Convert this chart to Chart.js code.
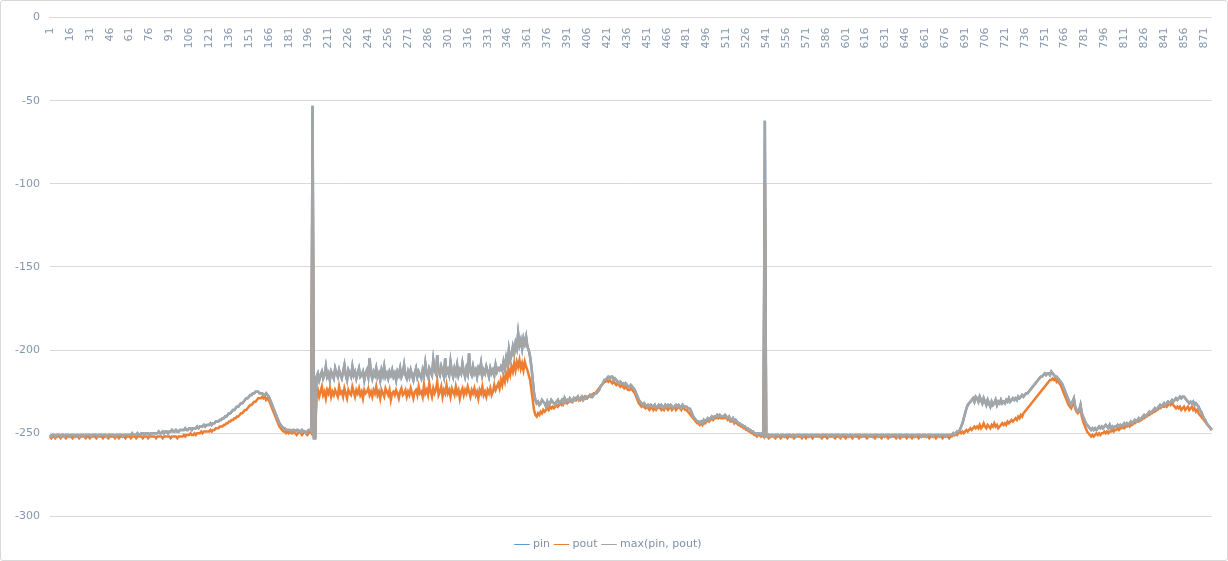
<!DOCTYPE html>
<html>
<head>
<meta charset="utf-8">
<script src="https://cdn.jsdelivr.net/npm/chart.js@4/dist/chart.umd.min.js"></script>
<style>
  html, body { margin: 0; padding: 0; background: #fff; }
  #wrap { position: relative; width: 1226px; height: 559px; border: 1px solid #d9d9d9; border-radius: 3px; }
</style>
</head>
<body>
<div id="wrap"><canvas id="chart" width="1226" height="559"></canvas></div>
<script>
// max(pin, pout)
const maxv = [
-251,-252,-251,-251,-252,-251,-251,-251,-252,-251,-251,-252,-251,-251,-251,-252,-251,-251,-251,-252,
-251,-251,-252,-251,-251,-251,-252,-251,-251,-251,-251,-252,-251,-251,-251,-251,-252,-251,-251,-251,
-251,-251,-251,-252,-251,-251,-251,-251,-251,-252,-251,-251,-251,-251,-251,-252,-251,-251,-251,-251,
-251,-251,-250,-251,-251,-251,-250,-251,-251,-250,-250,-251,-250,-250,-250,-251,-250,-250,-250,-250,
-250,-250,-249,-250,-250,-249,-250,-249,-249,-250,-249,-249,-248,-249,-249,-248,-249,-249,-248,-248,
-248,-248,-247,-248,-248,-247,-247,-248,-247,-247,-247,-246,-247,-246,-246,-246,-245,-246,-245,-245,
-245,-244,-245,-244,-244,-243,-243,-243,-242,-242,-241,-241,-240,-240,-239,-238,-238,-237,-236,-236,
-235,-234,-234,-233,-232,-232,-231,-230,-229,-229,-228,-227,-227,-226,-226,-225,-225,-225,-226,-226,
-226,-227,-227,-226,-227,-228,-230,-232,-234,-236,-238,-240,-242,-244,-245,-246,-247,-247,-248,-248,
-248,-248,-249,-248,-248,-249,-248,-248,-249,-249,-248,-249,-249,-250,-249,-248,-248,-249,-53,-253,
-253,-216,-214,-218,-215,-213,-217,-215,-210,-216,-214,-218,-213,-215,-217,-211,-214,-216,-212,-215,
-217,-213,-209,-215,-218,-212,-214,-216,-210,-215,-213,-217,-214,-211,-216,-215,-213,-218,-214,-212,
-216,-205,-214,-217,-213,-215,-211,-216,-214,-218,-212,-215,-210,-216,-214,-217,-213,-215,-212,-216,
-214,-218,-213,-215,-211,-216,-214,-209,-215,-217,-213,-216,-212,-215,-218,-214,-211,-216,-213,-215,
-217,-212,-215,-208,-214,-216,-211,-213,-215,-206,-212,-214,-203,-213,-215,-210,-213,-216,-205,-214,
-212,-215,-207,-213,-216,-211,-214,-209,-215,-212,-214,-208,-213,-216,-211,-214,-202,-213,-215,-210,
-214,-212,-216,-211,-213,-208,-215,-212,-214,-210,-213,-216,-211,-214,-212,-215,-209,-213,-211,-212,
-210,-212,-207,-211,-205,-209,-200,-206,-203,-198,-202,-196,-199,-190,-197,-194,-199,-193,-196,-192,
-198,-200,-204,-210,-218,-226,-230,-232,-231,-233,-232,-230,-231,-232,-234,-231,-233,-232,-230,-231,
-232,-233,-231,-230,-232,-231,-230,-232,-229,-231,-230,-231,-229,-230,-231,-229,-230,-229,-228,-230,
-229,-228,-230,-229,-228,-229,-228,-228,-227,-228,-227,-226,-226,-225,-224,-222,-221,-220,-218,-218,
-217,-216,-217,-216,-216,-218,-217,-218,-219,-220,-219,-220,-220,-221,-220,-221,-222,-222,-221,-222,
-223,-224,-226,-228,-230,-231,-232,-233,-232,-233,-234,-233,-234,-233,-234,-234,-233,-235,-234,-233,
-234,-233,-234,-235,-233,-234,-233,-234,-233,-234,-235,-234,-233,-234,-233,-234,-235,-233,-234,-234,
-234,-235,-235,-236,-238,-240,-241,-242,-243,-243,-244,-243,-244,-242,-243,-242,-241,-242,-241,-240,
-241,-240,-240,-239,-240,-239,-240,-240,-240,-239,-240,-241,-240,-242,-242,-241,-243,-242,-243,-244,
-244,-245,-245,-246,-246,-247,-247,-248,-248,-249,-249,-250,-250,-251,-250,-250,-251,-250,-251,-62,
-252,-252,-251,-252,-251,-251,-252,-251,-251,-251,-252,-251,-251,-251,-252,-251,-251,-251,-251,-252,
-251,-251,-252,-251,-251,-251,-251,-252,-251,-251,-251,-251,-252,-251,-251,-251,-252,-251,-251,-251,
-251,-252,-251,-251,-251,-251,-251,-252,-251,-251,-251,-252,-251,-251,-251,-251,-252,-251,-251,-251,
-251,-251,-252,-251,-251,-251,-252,-251,-251,-251,-251,-251,-252,-251,-251,-251,-251,-252,-251,-251,
-252,-251,-251,-251,-251,-252,-251,-251,-251,-252,-251,-251,-251,-251,-252,-251,-251,-251,-251,-252,
-251,-251,-251,-252,-251,-251,-251,-251,-252,-251,-251,-251,-252,-251,-251,-251,-251,-252,-251,-251,
-251,-252,-251,-251,-251,-251,-252,-251,-251,-251,-251,-252,-251,-251,-251,-252,-251,-251,-251,-251,
-251,-250,-251,-250,-249,-249,-248,-246,-244,-241,-238,-235,-233,-232,-231,-230,-229,-231,-228,-229,
-231,-228,-230,-232,-229,-231,-233,-230,-232,-234,-231,-233,-232,-230,-233,-231,-232,-230,-232,-231,
-232,-230,-231,-229,-231,-230,-229,-230,-229,-230,-228,-229,-228,-227,-228,-227,-226,-226,-225,-224,
-223,-222,-221,-220,-219,-218,-217,-216,-216,-215,-214,-215,-214,-214,-215,-213,-214,-215,-216,-216,
-217,-218,-219,-220,-222,-224,-226,-228,-230,-232,-233,-231,-229,-234,-236,-237,-236,-233,-238,-240,
-242,-244,-245,-246,-247,-248,-247,-248,-247,-248,-247,-246,-247,-246,-247,-246,-245,-246,-247,-245,
-247,-246,-247,-246,-246,-245,-246,-245,-246,-245,-244,-245,-244,-245,-244,-243,-244,-243,-242,-243,
-242,-241,-242,-241,-240,-239,-240,-239,-238,-237,-238,-237,-236,-235,-236,-235,-234,-233,-234,-233,
-232,-233,-232,-231,-232,-231,-230,-231,-230,-229,-230,-229,-228,-229,-228,-228,-229,-230,-231,-232,
-231,-232,-231,-233,-232,-233,-234,-236,-237,-239,-241,-242,-244,-245,-246,-247,-248
];

// pout
const pout = [
-252,-253,-252,-252,-253,-252,-252,-252,-253,-252,-252,-252,-253,-252,-252,-252,-252,-253,-252,-252,
-252,-252,-253,-252,-252,-252,-252,-253,-252,-252,-253,-252,-252,-252,-252,-253,-252,-252,-252,-252,
-253,-252,-252,-252,-253,-252,-252,-252,-252,-253,-252,-252,-253,-252,-252,-252,-252,-253,-252,-252,
-252,-253,-252,-252,-252,-253,-252,-252,-252,-252,-253,-252,-252,-252,-253,-252,-252,-252,-252,-252,
-253,-252,-252,-252,-252,-253,-252,-252,-252,-252,-252,-253,-252,-252,-252,-252,-253,-252,-252,-252,
-252,-251,-252,-251,-251,-251,-250,-251,-251,-250,-251,-250,-250,-250,-249,-250,-249,-249,-249,-249,
-249,-248,-249,-248,-248,-247,-247,-247,-246,-246,-246,-245,-245,-244,-244,-243,-243,-242,-242,-241,
-241,-240,-240,-239,-238,-238,-237,-236,-236,-235,-234,-233,-233,-232,-231,-231,-230,-229,-229,-229,
-228,-229,-228,-230,-229,-230,-232,-234,-236,-238,-240,-242,-244,-246,-247,-248,-249,-249,-250,-249,
-250,-249,-250,-250,-249,-250,-251,-250,-249,-250,-251,-250,-249,-250,-251,-250,-249,-250,-80,-252,
-252,-226,-224,-228,-225,-222,-227,-225,-229,-224,-226,-223,-228,-225,-227,-224,-226,-228,-222,-226,
-225,-228,-223,-226,-229,-224,-226,-227,-222,-225,-228,-224,-226,-223,-227,-225,-229,-224,-226,-225,
-223,-227,-225,-228,-224,-226,-222,-227,-225,-229,-224,-226,-228,-223,-225,-227,-224,-230,-226,-225,
-227,-224,-226,-229,-225,-223,-227,-226,-224,-228,-225,-227,-223,-226,-229,-225,-224,-227,-222,-226,
-225,-228,-221,-226,-224,-227,-220,-225,-228,-223,-226,-224,-219,-227,-225,-222,-228,-224,-226,-221,
-226,-224,-228,-223,-225,-227,-222,-226,-224,-229,-225,-223,-227,-224,-226,-222,-225,-228,-224,-226,
-223,-227,-225,-229,-224,-226,-222,-227,-225,-228,-224,-226,-223,-227,-225,-221,-224,-222,-220,-223,
-218,-221,-216,-219,-214,-217,-212,-215,-210,-213,-208,-212,-207,-210,-206,-211,-208,-212,-207,-210,
-212,-215,-218,-224,-230,-236,-239,-240,-238,-239,-237,-238,-236,-237,-236,-235,-236,-234,-235,-234,
-235,-234,-233,-234,-233,-232,-233,-232,-232,-231,-232,-231,-230,-231,-230,-230,-229,-230,-229,-229,
-230,-229,-229,-228,-229,-228,-228,-227,-228,-227,-226,-226,-225,-224,-223,-222,-221,-220,-219,-219,
-218,-219,-218,-219,-220,-219,-220,-221,-220,-221,-222,-221,-222,-223,-222,-223,-224,-224,-223,-224,
-225,-226,-228,-230,-232,-233,-234,-233,-234,-235,-234,-235,-236,-235,-234,-236,-235,-236,-235,-234,
-235,-236,-235,-236,-234,-235,-236,-235,-234,-236,-235,-234,-236,-235,-234,-235,-236,-234,-235,-236,
-236,-237,-238,-239,-240,-241,-242,-243,-244,-244,-245,-244,-245,-243,-244,-243,-242,-243,-242,-241,
-242,-241,-241,-240,-241,-240,-241,-241,-241,-240,-241,-242,-241,-243,-243,-242,-244,-243,-244,-245,
-245,-246,-246,-247,-247,-248,-248,-249,-249,-250,-250,-251,-251,-252,-251,-251,-252,-251,-252,-100,
-252,-252,-253,-252,-252,-252,-252,-253,-252,-252,-252,-253,-252,-252,-252,-252,-253,-252,-252,-252,
-252,-253,-252,-252,-252,-252,-252,-253,-252,-252,-253,-252,-252,-252,-252,-253,-252,-252,-252,-252,
-252,-252,-253,-252,-252,-252,-253,-252,-252,-252,-252,-252,-253,-252,-252,-252,-253,-252,-252,-252,
-253,-252,-252,-252,-252,-253,-252,-252,-252,-252,-253,-252,-252,-252,-252,-252,-253,-252,-252,-252,
-252,-252,-253,-252,-252,-252,-252,-253,-252,-252,-252,-252,-253,-252,-252,-252,-252,-252,-253,-252,
-252,-253,-252,-252,-252,-252,-253,-252,-252,-252,-253,-252,-252,-252,-252,-253,-252,-252,-252,-252,
-252,-252,-252,-253,-252,-252,-252,-252,-253,-252,-252,-252,-252,-253,-252,-252,-252,-252,-253,-252,
-252,-251,-251,-250,-251,-250,-249,-250,-249,-250,-249,-248,-249,-248,-247,-248,-247,-246,-247,-246,
-247,-245,-247,-246,-244,-246,-247,-245,-246,-247,-245,-246,-244,-246,-245,-247,-246,-245,-244,-245,
-244,-245,-243,-244,-243,-242,-243,-242,-241,-242,-240,-241,-239,-240,-238,-237,-236,-235,-234,-233,
-232,-231,-230,-229,-228,-227,-226,-225,-224,-223,-222,-221,-220,-219,-218,-218,-217,-218,-217,-219,
-218,-220,-221,-223,-225,-227,-229,-231,-233,-234,-235,-233,-231,-235,-237,-238,-237,-235,-240,-243,
-245,-247,-249,-250,-251,-252,-251,-252,-251,-250,-251,-250,-251,-250,-250,-249,-250,-249,-250,-249,
-249,-248,-249,-248,-248,-247,-248,-247,-247,-246,-247,-246,-246,-245,-246,-245,-245,-244,-244,-243,
-243,-243,-242,-242,-241,-241,-240,-240,-239,-239,-238,-238,-237,-237,-236,-236,-235,-235,-234,-234,
-234,-233,-234,-233,-232,-233,-232,-233,-234,-235,-234,-235,-234,-236,-235,-234,-236,-235,-234,-236,
-235,-234,-236,-235,-237,-236,-238,-239,-240,-241,-242,-243,-244,-245,-246,-247,-248
];

// pin is almost entirely hidden under the grey line; read as the same values
const pin = [...maxv];

const labels = pin.map((_, i) => String(i + 1));
const yTicks = [0, -50, -100, -150, -200, -250, -300];

const ctx = document.getElementById("chart").getContext("2d");
Chart.defaults.font.family = "'DejaVu Sans', sans-serif";
Chart.defaults.font.size = 11;
Chart.defaults.color = "#8497b0";

new Chart(ctx, {
  type: "line",
  data: {
    labels: labels,
    datasets: [
      { label: "pin", data: pin, borderColor: "#5b9bd5", backgroundColor: "#5b9bd5", order: 3 },
      { label: "pout", data: pout, borderColor: "#ed7d31", backgroundColor: "#ed7d31", order: 2 },
      { label: "max(pin, pout)", data: maxv, borderColor: "#a5a5a5", backgroundColor: "#a5a5a5", order: 1 },
    ],
  },
  options: {
    responsive: false,
    animation: false,
    layout: { padding: { left: 4, right: 14, top: 6, bottom: 0 } },
    elements: {
      line: { borderWidth: 2.5, tension: 0 },
      point: { radius: 0 },
    },
    plugins: {
      tooltip: { enabled: false },
      legend: {
        position: "bottom",
        labels: {
          usePointStyle: true,
          pointStyle: "line",
          boxWidth: 30,
          padding: 6,
          color: "#7f8fa9",
          sort: (a, b) => a.datasetIndex - b.datasetIndex,
        },
      },
    },
    scales: {
      x: {
        position: { y: 0 },
        offset: false,
        grid: { display: false },
        border: { color: "#d9d9d9" },
        ticks: {
          autoSkip: false,
          maxRotation: 90,
          minRotation: 90,
          padding: 2,
          callback: (v, i) => (i % 15 === 0 ? labels[i] : ""),
        },
      },
      y: {
        min: -310,
        max: 0,
        afterBuildTicks: (s) => { s.ticks = yTicks.map((v) => ({ value: v })); },
        grid: { color: "#d9d9d9", drawTicks: false },
        border: { display: false },
        ticks: { padding: 10 },
      },
    },
  },
});
</script>
</body>
</html>
